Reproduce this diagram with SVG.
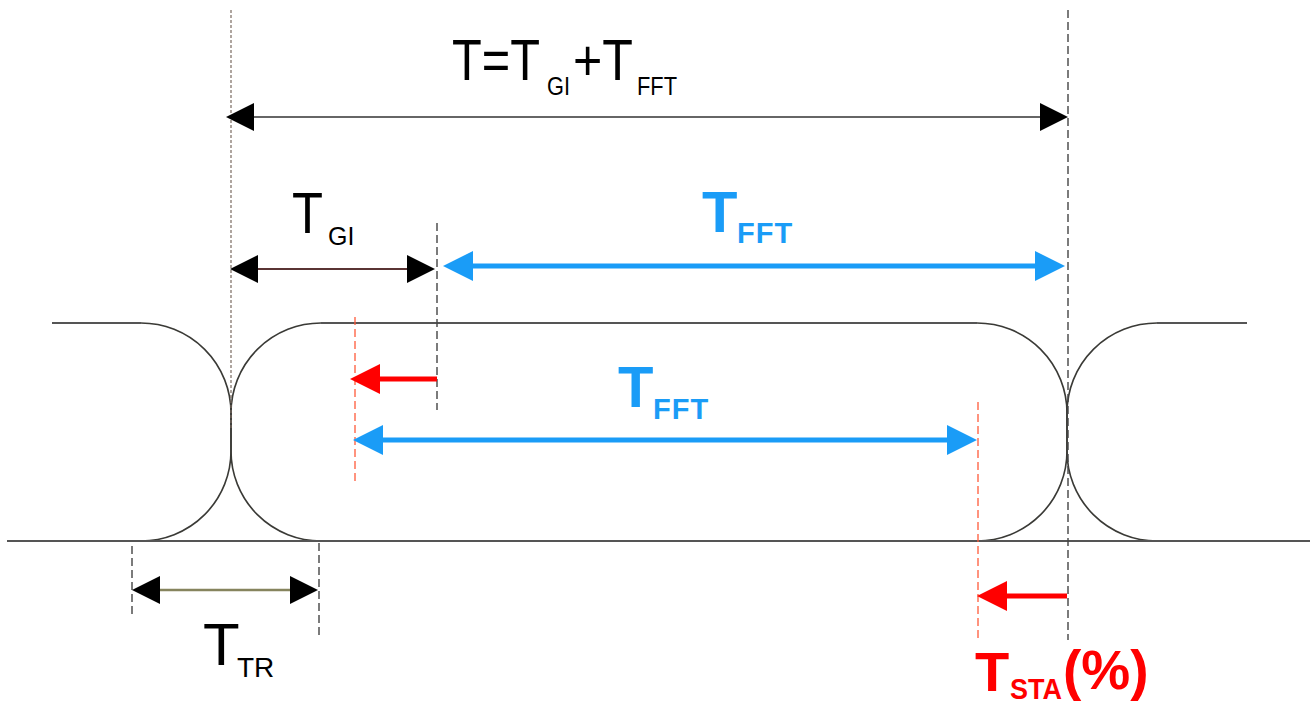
<svg xmlns="http://www.w3.org/2000/svg" width="1310" height="704" viewBox="0 0 1310 704">
<style>
.wave{fill:none;stroke:#3a3a36;stroke-width:1.6}
.base{fill:none;stroke:#555;stroke-width:2.2}
.dk{stroke:#444;stroke-width:1.4;stroke-dasharray:8 4;fill:none}
.dot{stroke:#7a6a60;stroke-width:1.2;stroke-dasharray:3 2;fill:none}
.rd{stroke:#ff5a3a;stroke-width:1.3;stroke-dasharray:8 4;fill:none}
.blk{stroke:#666;stroke-width:2.2;fill:none}
.blu{stroke:#1a9cf7;stroke-width:5;fill:none}
.red{stroke:#ff0000;stroke-width:5;fill:none}
.t{font-family:"Liberation Sans",Arial,sans-serif;fill:#000}
.tb{font-family:"Liberation Sans",Arial,sans-serif;font-weight:bold;fill:#1a9cf7}
.tr{font-family:"Liberation Sans",Arial,sans-serif;font-weight:bold;fill:#ff0000}
</style>
<defs>
<marker id="hb" markerUnits="userSpaceOnUse" markerWidth="30" markerHeight="30" refX="0" refY="14" orient="auto-start-reverse" overflow="visible"><path d="M0,0 L28,14 L0,28z" fill="#000"/></marker>
<marker id="hbl" markerUnits="userSpaceOnUse" markerWidth="32" markerHeight="32" refX="0" refY="15" orient="auto-start-reverse" overflow="visible"><path d="M0,0 L30,15 L0,30z" fill="#1a9cf7"/></marker>
<marker id="hr" markerUnits="userSpaceOnUse" markerWidth="32" markerHeight="32" refX="0" refY="15" orient="auto-start-reverse" overflow="visible"><path d="M0,0 L30,15 L0,30z" fill="#ff0000"/></marker>
</defs>
<rect width="1310" height="704" fill="#fff"/>

<g id="symbols">
<path class="wave" d="M141,323 A90,90 0 0 1 231,413 V451 A90,90 0 0 1 141,541"/>
<path class="base" d="M52,323 H141"/>
<path class="wave" d="M321,323 A90,90 0 0 0 231,413 V451 A90,90 0 0 0 321,541"/>
<path class="wave" d="M977,323 A90,90 0 0 1 1067,413 V451 A90,90 0 0 1 977,541"/>
<path class="base" d="M321,323 H977"/>
<path class="wave" d="M1157,323 A90,90 0 0 0 1067,413 V451 A90,90 0 0 0 1157,541"/>
<path class="base" d="M1157,323 H1247"/>
<path class="base" d="M7,541 H1310"/>
</g>

<g id="guides">
<line class="dot" x1="231" y1="10" x2="231" y2="430"/>
<line class="dk" x1="1068" y1="10" x2="1068" y2="640"/>
<line class="dk" x1="437" y1="223" x2="437" y2="410"/>
<line class="rd" x1="355" y1="317" x2="355" y2="484"/>
<line class="rd" x1="978" y1="402" x2="978" y2="642"/>
<line class="dk" x1="132" y1="546" x2="132" y2="618"/>
<line class="dk" x1="319" y1="543" x2="319" y2="638"/>
</g>

<g id="connectors">
<line class="blk" x1="254" y1="117" x2="1040" y2="117" marker-start="url(#hb)" marker-end="url(#hb)"/>
<line stroke="#5a3434" stroke-width="1.8" x1="258" y1="269" x2="407" y2="269" marker-start="url(#hb)" marker-end="url(#hb)"/>
<line class="blu" x1="473" y1="266" x2="1035" y2="266" marker-start="url(#hbl)" marker-end="url(#hbl)"/>
<line class="red" x1="437" y1="379" x2="380" y2="379" marker-end="url(#hr)"/>
<line class="blu" x1="383" y1="440" x2="947" y2="440" marker-start="url(#hbl)" marker-end="url(#hbl)"/>
<line stroke="#86845e" stroke-width="2.4" x1="160" y1="590" x2="290" y2="590" marker-start="url(#hb)" marker-end="url(#hb)"/>
<line class="red" x1="1067" y1="596" x2="1007" y2="596" marker-end="url(#hr)"/>
</g>

<g id="labels">
<text class="t" x="452" y="80" font-size="58" textLength="88" lengthAdjust="spacingAndGlyphs">T=T</text>
<text class="t" x="547" y="95" font-size="25" fill="#333" textLength="23" lengthAdjust="spacingAndGlyphs">GI</text>
<text class="t" x="573" y="80" font-size="58" textLength="60" lengthAdjust="spacingAndGlyphs">+T</text>
<text class="t" x="637" y="95" font-size="25" fill="#333" textLength="40" lengthAdjust="spacingAndGlyphs">FFT</text>
<text class="t" x="292" y="233" font-size="57" textLength="31" lengthAdjust="spacingAndGlyphs">T</text>
<text class="t" x="328" y="245" font-size="25" fill="#333">GI</text>
<text class="tb" x="702" y="232" font-size="58">T</text>
<text class="tb" x="737" y="243" font-size="29" letter-spacing="1">FFT</text>
<text class="tb" x="618" y="407" font-size="58">T</text>
<text class="tb" x="653" y="419" font-size="29" letter-spacing="1">FFT</text>
<text class="t" x="203" y="665" font-size="60">T</text>
<text class="t" x="237" y="677" font-size="28" fill="#333">TR</text>
<text class="tr" x="975" y="691" font-size="56">T</text>
<text class="tr" x="1010" y="699" font-size="29" textLength="52" lengthAdjust="spacingAndGlyphs">STA</text>
<text class="tr" x="1063" y="689" font-size="55">(%)</text>
</g>
</svg>
